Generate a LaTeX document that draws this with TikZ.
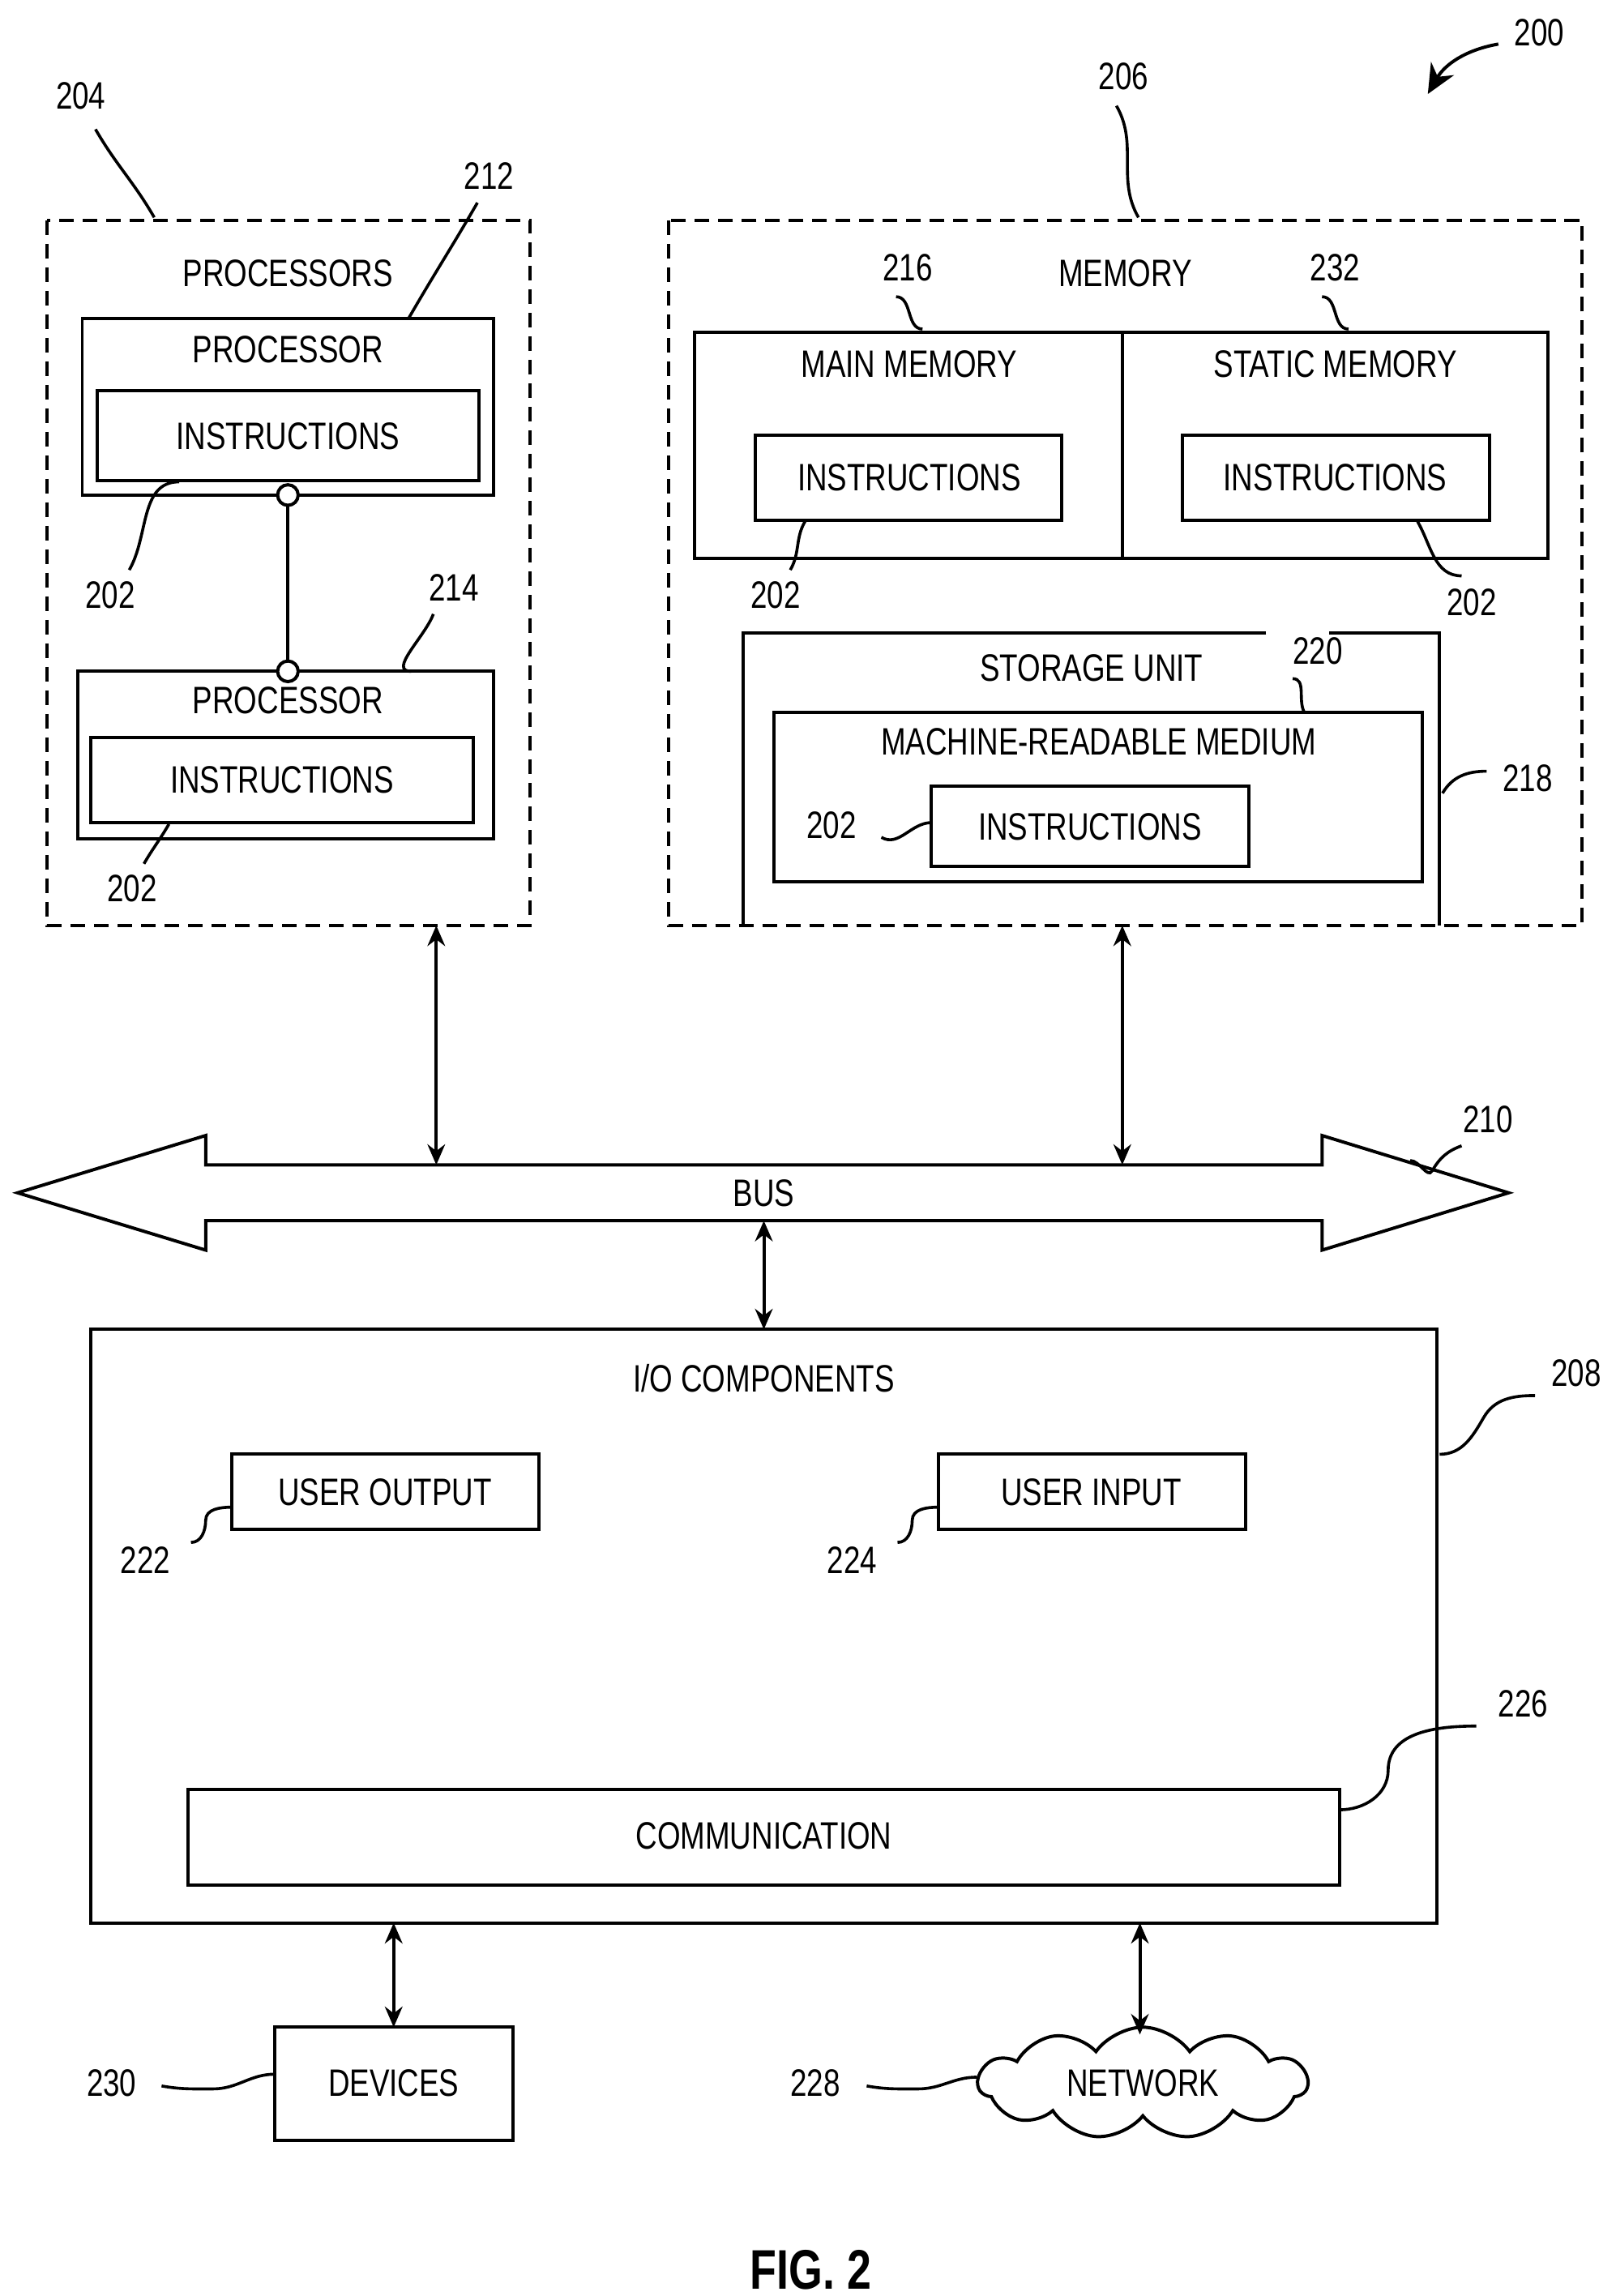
\documentclass[tikz,border=0pt]{standalone}
\usepackage{fontspec}
\setmainfont{Liberation Sans}[FakeStretch=0.78]
\usetikzlibrary{shapes.symbols,arrows.meta}
\begin{document}
\begin{tikzpicture}[x=0.5pt,y=-0.5pt,
  every node/.style={font=\fontsize{13}{15}\selectfont},
  box/.style={draw,line width=1.1pt},
  dbox/.style={draw,line width=1.1pt,dash pattern=on 5pt off 3pt},
  lbl/.style={inner sep=1pt},
  sq/.style={line width=1pt},
  arr/.style={line width=1.1pt,{Stealth[length=7pt,width=6pt]}-{Stealth[length=7pt,width=6pt]}}]
\useasboundingbox (0,0) rectangle (1100,1563);
% 200
\node[lbl] (l200) at (1048,22) {200};
\draw[line width=1.1pt,-{Stealth[length=10pt,width=9pt]}] (1020,30) to[out=190,in=60] (972,64);
% processors
\draw[dbox] (32,150) rectangle (361,630);
\node (tproc) at (196,186) {PROCESSORS};
\node[lbl] (l204) at (55,65) {204};
\draw[sq] (65,88) to[out=-60,in=120] (105,148);
\draw[box] (56,217) rectangle (336,337); \node (p1) at (196,238) {PROCESSOR};
\draw[box] (66,266) rectangle (326,327); \node (i1) at (196,297) {INSTRUCTIONS};
\node[lbl] (l212) at (333,120) {212};
\draw[sq] (325,138) to[out=-120,in=60] (278,217);
\node[lbl] (l202a) at (75,405) {202};
\draw[sq] (88,388) to[out=60,in=180] (122,328);
\coordinate (c1) at (196,337); \coordinate (c2) at (196,457);
\draw[line width=1.1pt] (c1) -- (c2);
\draw[box] (53,457) rectangle (336,571); \node (p2) at (196,477) {PROCESSOR};
\draw[box] (62,502) rectangle (322,560); \node (i2) at (192,531) {INSTRUCTIONS};
\draw[line width=1.1pt,fill=white] (c1) circle (3.5pt) (c2) circle (3.5pt);
\node[lbl] (l214) at (309,400) {214};
\draw[sq] (295,418) to[out=-110,in=180] (280,457);
\node[lbl] (l202b) at (90,605) {202};
\draw[sq] (98,588) to[out=60,in=-120] (115,561);
% memory
\draw[dbox] (455,150) rectangle (1077,630);
\node (tmem) at (766,186) {MEMORY};
\node[lbl] (l206) at (765,52) {206};
\draw[sq] (760,72) to[out=-60,in=120] (775,148);
\draw[box] (473,226) rectangle (764,380); \node (mm) at (619,248) {MAIN MEMORY};
\draw[box] (764,226) rectangle (1054,380); \node (sm) at (909,248) {STATIC MEMORY};
\draw[box] (514,296) rectangle (723,354); \node (i3) at (619,325) {INSTRUCTIONS};
\draw[box] (805,296) rectangle (1014,354); \node (i4) at (909,325) {INSTRUCTIONS};
\node[lbl] (l216) at (618,182) {216};
\draw[sq] (610,202) to[out=0,in=180] (628,224);
\node[lbl] (l232) at (909,182) {232};
\draw[sq] (900,202) to[out=0,in=180] (918,224);
\node[lbl] (l202c) at (528,405) {202};
\draw[sq] (538,388) to[out=60,in=-120] (548,355);
\node[lbl] (l202d) at (1002,410) {202};
\draw[sq] (965,355) to[out=-60,in=180] (995,392);
\draw[box] (862,431) -- (506,431) -- (506,630) (980,630) -- (980,431) -- (905,431);
\node (su) at (743,455) {STORAGE UNIT};
\node[lbl] (l220) at (897,443) {220};
\draw[sq] (880,462) to[out=0,in=120] (888,485);
\draw[box] (527,485) rectangle (968,600); \node (mrm) at (748,505) {MACHINE-READABLE MEDIUM};
\draw[box] (634,535) rectangle (850,590); \node (i5) at (742,563) {INSTRUCTIONS};
\node[lbl] (l202e) at (566,562) {202};
\draw[sq] (600,570) to[out=-30,in=180] (634,560);
\node[lbl] (l218) at (1040,530) {218};
\draw[sq] (982,540) to[out=60,in=180] (1012,525);
% bus
\coordinate (pb) at (297,630); \coordinate (pt) at (297,793);
\coordinate (mb) at (764,630); \coordinate (mt) at (764,793);
\draw[arr] (pb) -- (pt); \draw[arr] (mb) -- (mt);
\draw[line width=1.1pt,fill=white] (12,812) -- (140,773) -- (140,793) -- (900,793) -- (900,773) -- (1027,812) -- (900,851) -- (900,831) -- (140,831) -- (140,851) -- cycle;
\node (bus) at (520,812) {BUS};
\node[lbl] (l210) at (1013,762) {210};
\draw[sq] (960,790) to[out=0,in=-120] (975,797) to[out=60,in=200] (995,780);
\coordinate (bb) at (520,831); \coordinate (iot) at (520,905);
\draw[arr] (bb) -- (iot);
% IO
\draw[box] (62,905) rectangle (978,1309);
\node (io) at (520,938) {I/O COMPONENTS};
\node[lbl] (l208) at (1073,935) {208};
\draw[sq] (980,990) to[out=0,in=-120] (1010,965) to[out=60,in=180] (1045,950);
\draw[box] (158,990) rectangle (367,1041); \node (uo) at (262,1016) {USER OUTPUT};
\node[lbl] (l222) at (99,1062) {222};
\draw[sq] (130,1050) to[out=0,in=-90] (140,1035) to[out=90,in=180] (158,1026);
\draw[box] (639,990) rectangle (848,1041); \node (ui) at (743,1016) {USER INPUT};
\node[lbl] (l224) at (580,1062) {224};
\draw[sq] (611,1050) to[out=0,in=-90] (621,1035) to[out=90,in=180] (639,1026);
\draw[box] (128,1218) rectangle (912,1283); \node (com) at (520,1250) {COMMUNICATION};
\node[lbl] (l226) at (1037,1160) {226};
\draw[sq] (912,1232) to[out=0,in=-90] (945,1205) to[out=90,in=180] (1005,1175);
% bottom
\coordinate (a1) at (268,1309); \coordinate (a2) at (268,1380);
\coordinate (b1) at (776,1309); \coordinate (b2) at (776,1385);
\draw[arr] (a1) -- (a2); \draw[arr] (b1) -- (b2);
\draw[box] (187,1380) rectangle (349,1457); \node (dev) at (268,1418) {DEVICES};
\node[lbl] (l230) at (76,1418) {230};
\draw[sq] (110,1420) to[out=-10,in=180] (145,1422) to[out=0,in=180] (187,1412);
\node[cloud,draw,line width=1.1pt,cloud puffs=11,cloud puff arc=110,aspect=3.2,minimum width=112pt,minimum height=38pt,inner sep=0pt] (net) at (778,1418) {};
\node at (net) {NETWORK};
\node[lbl] (l228) at (555,1418) {228};
\draw[sq] (590,1420) to[out=-10,in=180] (625,1422) to[out=0,in=180] (665,1414);
\node[font=\fontsize{19}{21}\selectfont\bfseries] (fig) at (552,1545) {FIG. 2};
\end{tikzpicture}
\end{document}
